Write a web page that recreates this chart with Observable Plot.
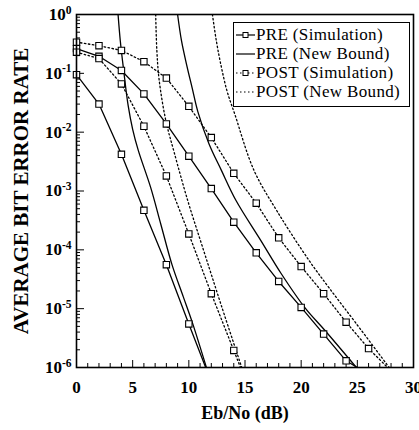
<!DOCTYPE html>
<html>
<head>
<meta charset="utf-8">
<script src="https://cdn.jsdelivr.net/npm/d3@7"></script>
<script src="https://cdn.jsdelivr.net/npm/@observablehq/plot@0.6"></script>
<style>
  body { margin: 0; background: #fff; }
  #chart { position: relative; width: 419px; height: 430px; font-family: "Liberation Serif", serif; }
  #legend { position: absolute; left: 233px; top: 22px; width: 175px; height: 81px; border: 1.5px solid #000;
            background: #fff; padding-top: 2px; box-sizing: content-box; font-family: "Liberation Serif", serif; }
  #legend .row { display: flex; align-items: center; height: 19px; line-height: 19px; font-size: 17px; letter-spacing: 0.35px;
                 font-family: "Liberation Serif", serif; color: #000; white-space: nowrap; }
  #legend svg { width: 21px; height: 12px; margin-left: 1px; flex: none; }
</style>
</head>
<body>
<div id="chart"></div>
<script>
// ---- data ----
const snr = [0, 2, 4, 6, 8, 10, 12, 14, 16, 18, 20, 22, 24, 26];   // Eb/No (dB) of simulation points
const berFloor = 1e-6;

// PRE (Simulation) - two curves
const preSimA = [9.5e-2, 3.0e-2, 4.2e-3, 4.7e-4, 5.6e-5, 5.5e-6];
const preSimAEnd = 11.5;   // dB where the curve reaches 1e-6
const preSimB = [0.263, 0.195, 0.112, 0.0447, 0.0138, 3.9e-3, 1.1e-3, 2.95e-4, 8.9e-5, 2.9e-5, 1.05e-5, 3.7e-6, 1.3e-6];
const preSimBEnd = 25.0;

// POST (Simulation) - two curves
const postSimA = [0.229, 0.178, 0.066, 0.0126, 1.8e-3, 1.86e-4, 1.8e-5, 1.95e-6];
const postSimAEnd = 14.6;
const postSimB = [0.339, 0.295, 0.245, 0.158, 0.083, 0.0275, 8.1e-3, 2.0e-3, 6.2e-4, 1.6e-4, 5.2e-5, 1.8e-5, 5.9e-6, 2.1e-6];
const postSimBEnd = 27.7;

// PRE (New Bound)
const preBoundAX = [3.7, 3.9, 4.2, 4.6, 5.0, 5.5, 6.6, 7.5, 8.5, 9.5, 10.3, 11.6];
const preBoundAY = [1, 0.355, 0.112, 0.0282, 0.0112, 4.9e-3, 1.15e-3, 2.75e-4, 5.6e-5, 1.6e-5, 5.9e-6, 9.5e-7];
const preBoundBX = [9.0, 9.35, 9.8, 10.3, 10.8, 11.8, 12.9, 14.2, 16.4, 18.2, 20.4, 22.1, 25.1];
const preBoundBY = [1, 0.355, 0.141, 0.056, 0.0224, 6.3e-3, 2.24e-3, 6.9e-4, 1.45e-4, 4.0e-5, 1.0e-5, 4.3e-6, 9.1e-7];

// POST (New Bound)
const postBoundAX = [7.05, 7.15, 7.35, 7.95, 8.7, 9.9, 11.3, 12.9, 14.75];
const postBoundAY = [1, 0.251, 0.0794, 0.0158, 4.5e-3, 6.9e-4, 1.0e-4, 1.12e-5, 9.5e-7];
const postBoundBX = [12.1, 12.45, 12.85, 13.4, 14.1, 15.8, 17.9, 20.7, 22.5, 24.85, 28.0];
const postBoundBY = [1, 0.355, 0.141, 0.050, 0.020, 2.24e-3, 4.4e-4, 6.6e-5, 2.24e-5, 5.75e-6, 9.1e-7];

const xTicks = [0, 5, 10, 15, 20, 25, 30];
const yTicks = [1e-6, 1e-5, 1e-4, 1e-3, 1e-2, 1e-1, 1];
const xLabel = "Eb/No (dB)";
const yLabel = "AVERAGE BIT ERROR RATE";
const legendLabels = ["PRE (Simulation)", "PRE (New Bound)", "POST (Simulation)", "POST (New Bound)"];

// ---- build tables ----
const simPts = (vals) => vals.map((v, i) => ({x: snr[i], y: v}));
const simLine = (vals, end) => [...simPts(vals), {x: end, y: berFloor}];
const boundLine = (xs, ys) => xs.map((x, i) => ({x, y: ys[i]}));

const xMinor = d3.range(0, 31).filter(d => d % 5 !== 0);
const yMinor = [];
for (let k = -6; k < 0; k++) for (let m = 2; m <= 9; m++) yMinor.push(m * Math.pow(10, k));

const W = 419, H = 430, mL = 76, mR = 6, mT = 14, mB = 63;
const fw = W - mL - mR, fh = H - mT - mB;
const dotted = "1.5,2.5";

const chart = Plot.plot({
  width: W, height: H,
  marginLeft: mL, marginRight: mR, marginTop: mT, marginBottom: mB,
  style: {fontFamily: "'Liberation Serif', serif", background: "#fff", color: "#000"},
  x: {domain: [0, 30]},
  y: {type: "log", domain: [berFloor, 1]},
  marks: [
    // ticks (inside)
    Plot.ruleX(xMinor, {x: d => d, insetTop: fh - 4, stroke: "#000", strokeWidth: 1}),
    Plot.ruleX(xTicks, {x: d => d, insetTop: fh - 7, stroke: "#000", strokeWidth: 1}),
    Plot.ruleY(yMinor, {y: d => d, insetRight: fw - 4, stroke: "#000", strokeWidth: 1}),
    Plot.ruleY(yTicks, {y: d => d, insetRight: fw - 8, stroke: "#000", strokeWidth: 1}),
    Plot.axisX({ticks: xTicks, tickSize: 0, tickPadding: 13, fontSize: 17, fontWeight: "bold", label: null}),
    Plot.axisY({ticks: yTicks, tickSize: 0, tickPadding: 5, fontSize: 17, fontWeight: "bold", label: null,
                tickFormat: d => "10^" + Math.round(Math.log10(d))}),
    // bounds
    Plot.line(boundLine(preBoundAX, preBoundAY), {x: "x", y: "y", curve: "catmull-rom", stroke: "#000", strokeWidth: 1.3, clip: true}),
    Plot.line(boundLine(preBoundBX, preBoundBY), {x: "x", y: "y", curve: "catmull-rom", stroke: "#000", strokeWidth: 1.3, clip: true}),
    Plot.line(boundLine(postBoundAX, postBoundAY), {x: "x", y: "y", curve: "catmull-rom", stroke: "#000", strokeWidth: 1.3, strokeDasharray: dotted, clip: true}),
    Plot.line(boundLine(postBoundBX, postBoundBY), {x: "x", y: "y", curve: "catmull-rom", stroke: "#000", strokeWidth: 1.3, strokeDasharray: dotted, clip: true}),
    // simulations
    Plot.line(simLine(preSimA, preSimAEnd), {x: "x", y: "y", stroke: "#000", strokeWidth: 1.3, clip: true}),
    Plot.line(simLine(preSimB, preSimBEnd), {x: "x", y: "y", stroke: "#000", strokeWidth: 1.3, clip: true}),
    Plot.line(simLine(postSimA, postSimAEnd), {x: "x", y: "y", stroke: "#000", strokeWidth: 1.3, strokeDasharray: dotted, clip: true}),
    Plot.line(simLine(postSimB, postSimBEnd), {x: "x", y: "y", stroke: "#000", strokeWidth: 1.3, strokeDasharray: dotted, clip: true}),
    Plot.dot(simPts(preSimA), {x: "x", y: "y", symbol: "square", r: 3.6, fill: "#fff", stroke: "#000", strokeWidth: 1.1}),
    Plot.dot(simPts(preSimB), {x: "x", y: "y", symbol: "square", r: 3.6, fill: "#fff", stroke: "#000", strokeWidth: 1.1}),
    Plot.dot(simPts(postSimA), {x: "x", y: "y", symbol: "square", r: 3.6, fill: "#fff", stroke: "#000", strokeWidth: 1.1}),
    Plot.dot(simPts(postSimB), {x: "x", y: "y", symbol: "square", r: 3.6, fill: "#fff", stroke: "#000", strokeWidth: 1.1}),
    Plot.frame({stroke: "#000", strokeWidth: 1.6}),
    // axis titles
    Plot.text([xLabel], {frameAnchor: "bottom", textAnchor: "middle", dy: 46, fontSize: 18, fontWeight: "bold", lineAnchor: "middle", fill: "#000"}),
    Plot.text([yLabel], {frameAnchor: "left", textAnchor: "middle", rotate: -90, dx: -55, fontSize: 21, fontWeight: "bold", lineAnchor: "middle", fill: "#000"})
  ]
});

document.getElementById("chart").appendChild(chart);

// superscript exponents on the y tick labels
d3.select(chart).selectAll('g[aria-label="y-axis tick label"] text').each(function() {
  const t = this.textContent;
  const m = t.match(/^10\^(-?\d+)$/);
  if (!m) return;
  const sel = d3.select(this);
  sel.text("10");
  sel.append("tspan").attr("dy", "-0.55em").attr("font-size", "0.68em").text(m[1]);
});

// legend
const legend = document.createElement("div");
legend.id = "legend";
const swatch = (dash, marker) => {
  const s = d3.create("svg").attr("viewBox", "0 0 21 12");
  s.append("line").attr("x1", 1).attr("x2", 20).attr("y1", 6).attr("y2", 6)
    .attr("stroke", "#000").attr("stroke-width", 1.2).attr("stroke-dasharray", dash ? dotted : null);
  if (marker) s.append("rect").attr("x", 8).attr("y", 3.5).attr("width", 5).attr("height", 5)
    .attr("fill", "#fff").attr("stroke", "#000").attr("stroke-width", 1);
  return s.node();
};
const styles = [[false, true], [false, false], [true, true], [true, false]];
legendLabels.forEach((lab, i) => {
  const row = document.createElement("div");
  row.className = "row";
  row.appendChild(swatch(styles[i][0], styles[i][1]));
  const span = document.createElement("span");
  span.textContent = lab;
  row.appendChild(span);
  legend.appendChild(row);
});
document.getElementById("chart").appendChild(legend);
</script>
</body>
</html>
